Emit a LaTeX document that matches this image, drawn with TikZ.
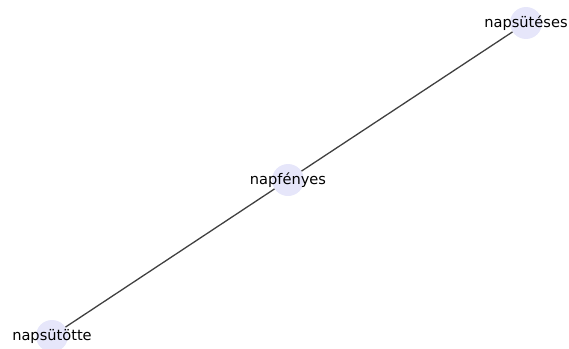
\documentclass[tikz,border=0pt]{standalone}
\usepackage{fontspec}
\setmainfont{DejaVu Sans}
\definecolor{nodefill}{HTML}{E6E6FA}
\definecolor{edgecol}{HTML}{404040}
\tikzset{
  vert/.style={circle, fill=nodefill, minimum size=32pt, inner sep=0pt},
  lbl/.style={font=\fontsize{14.6}{17}\selectfont, text=black, inner sep=0pt},
  edge/.style={draw=edgecol, line width=1.3pt}
}
\begin{document}
\begin{tikzpicture}[x=1pt, y=-1pt]
\useasboundingbox (0,0) rectangle (569,348);
\node[vert] (a) at (526,23) {};
\node[vert] (b) at (288,180) {};
\node[vert] (c) at (52,336) {};
\draw[edge] (a) -- (b);
\draw[edge] (b) -- (c);
\node[lbl] (la) at (a) {napsütéses};
\node[lbl] (lb) at (b) {napfényes};
\node[lbl] (lc) at (c) {napsütötte};
\end{tikzpicture}
\end{document}
